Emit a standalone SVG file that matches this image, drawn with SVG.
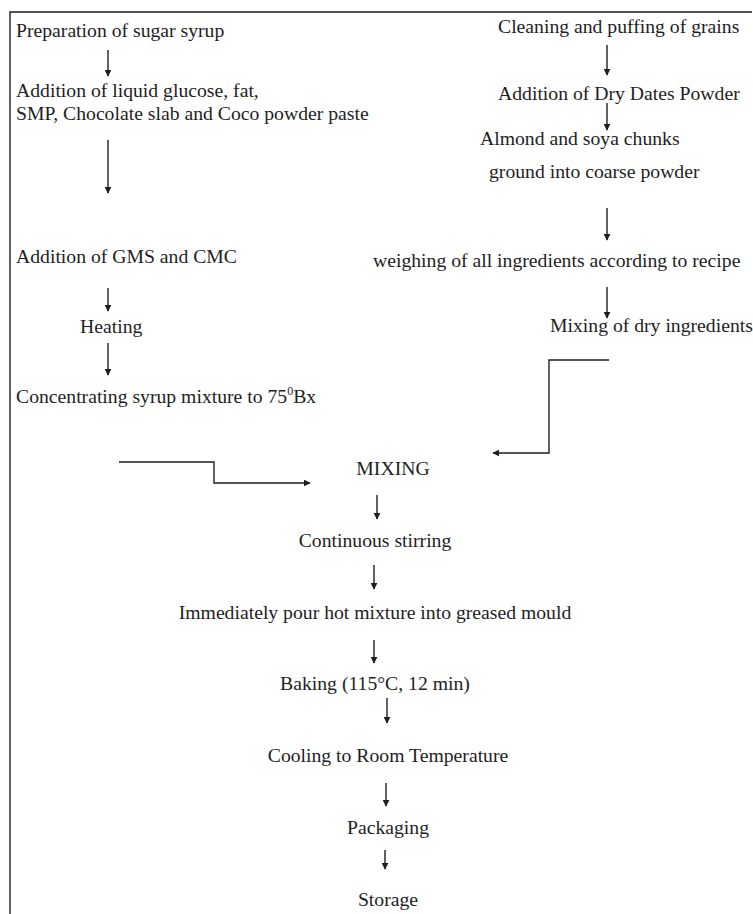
<svg xmlns="http://www.w3.org/2000/svg" width="753" height="914" viewBox="0 0 753 914">
<style>
text{font-family:"Liberation Serif","Times New Roman",serif;font-size:19.7px;fill:#1e1e1e}
.c{text-anchor:middle}
.ln{fill:none;stroke:#1e1e1e;stroke-width:1.4}
.ar{marker-end:url(#ah)}
</style>
<defs>
<marker id="ah" viewBox="0 0 10 10" refX="9" refY="5" markerWidth="7" markerHeight="7" markerUnits="userSpaceOnUse" orient="auto">
<path d="M0,0 L10,5 L0,10 z" fill="#1e1e1e"/>
</marker>
</defs>
<rect width="753" height="914" fill="#fff"/>
<path class="ln" d="M10,914 V12 H752" stroke-width="1.6"/>

<g id="n-sugar"><text x="16" y="37">Preparation of sugar syrup</text></g>
<g id="n-glucose"><text x="16" y="97">Addition of liquid glucose, fat,</text><text x="16" y="120">SMP, Chocolate slab and Coco powder paste</text></g>
<g id="n-gms"><text x="16" y="263">Addition of GMS and CMC</text></g>
<g id="n-heating"><text x="80" y="333">Heating</text></g>
<g id="n-concentrating"><text x="16" y="403">Concentrating syrup mixture to 75<tspan font-size="12" dy="-8">0</tspan><tspan dy="8">Bx</tspan></text></g>

<g id="n-cleaning"><text x="498" y="33">Cleaning and puffing of grains</text></g>
<g id="n-dates"><text x="498" y="100">Addition of Dry Dates Powder</text></g>
<g id="n-almond"><text x="480" y="145">Almond and soya chunks</text><text x="489" y="178">ground into coarse powder</text></g>
<g id="n-weighing"><text x="373" y="267">weighing of all ingredients according to recipe</text></g>
<g id="n-drymix"><text x="550" y="332">Mixing of dry ingredients</text></g>

<g id="n-mixing"><text class="c" x="393" y="475">MIXING</text></g>
<g id="n-stirring"><text class="c" x="375" y="547">Continuous stirring</text></g>
<g id="n-pour"><text class="c" x="375" y="619">Immediately pour hot mixture into greased mould</text></g>
<g id="n-baking"><text class="c" x="375" y="690">Baking (115°C, 12 min)</text></g>
<g id="n-cooling"><text class="c" x="388" y="762">Cooling to Room Temperature</text></g>
<g id="n-packaging"><text class="c" x="388" y="834">Packaging</text></g>
<g id="n-storage"><text class="c" x="388" y="906">Storage</text></g>

<g id="connectors">
<path class="ln ar" d="M108,50 V76"/>
<path class="ln ar" d="M108,140 V193"/>
<path class="ln ar" d="M108,288 V311"/>
<path class="ln ar" d="M108,343 V375"/>
<path class="ln ar" d="M607,45 V75"/>
<path class="ln ar" d="M607,103 V130"/>
<path class="ln ar" d="M607,208 V240"/>
<path class="ln ar" d="M607,287 V318"/>
<path class="ln ar" d="M609,360 H549 V453 H493"/>
<path class="ln ar" d="M119,462 H214 V483 H310"/>
<path class="ln ar" d="M377,495 V519"/>
<path class="ln ar" d="M374,565 V589"/>
<path class="ln ar" d="M374,640 V663"/>
<path class="ln ar" d="M387,698 V723"/>
<path class="ln ar" d="M386,783 V806"/>
<path class="ln ar" d="M385,850 V869"/>
</g>
</svg>
